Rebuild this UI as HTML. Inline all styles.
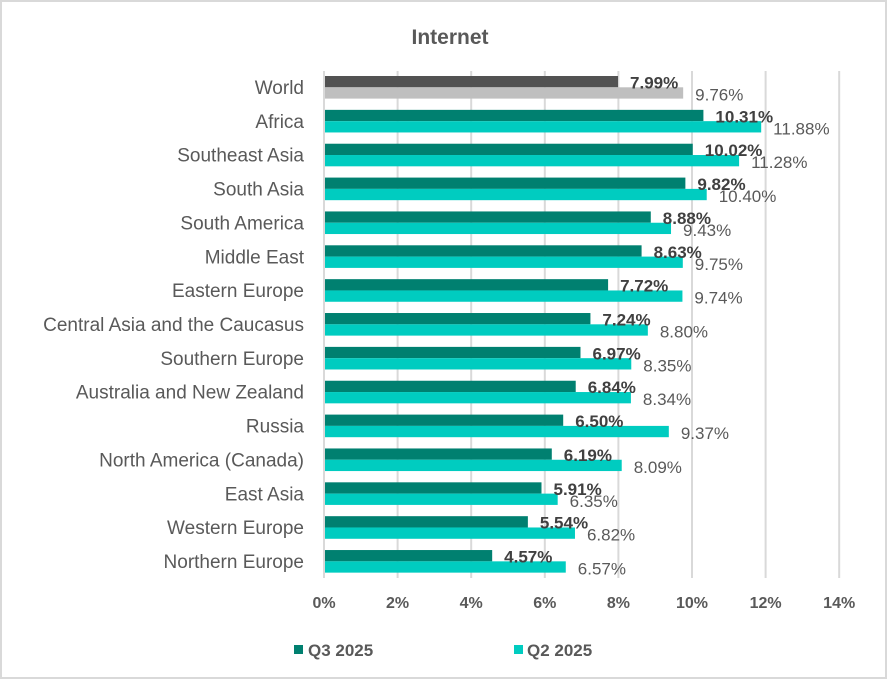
<!DOCTYPE html>
<html><head><meta charset="utf-8"><style>
body{margin:0;background:#fff}
svg{display:block;font-family:"Liberation Sans",sans-serif}
.c{font-size:19px;fill:#595959;text-anchor:end}
.a{font-size:17px;fill:#404040;font-weight:bold}
.b{font-size:17px;fill:#595959}
.t{font-size:16px;fill:#595959;font-weight:bold;text-anchor:middle}
</style></head><body>
<svg width="887" height="679" viewBox="0 0 887 679">
<rect x="1" y="1" width="885" height="677" fill="#fff" stroke="#d9d9d9" stroke-width="2"/>
<text x="450" y="44" style="font-size:21px;font-weight:bold;fill:#595959" text-anchor="middle">Internet</text>
<g stroke="#d9d9d9" stroke-width="2">
<line x1="397.6" y1="71" x2="397.6" y2="578"/><line x1="471.2" y1="71" x2="471.2" y2="578"/>
<line x1="544.8" y1="71" x2="544.8" y2="578"/><line x1="618.4" y1="71" x2="618.4" y2="578"/>
<line x1="692" y1="71" x2="692" y2="578"/><line x1="765.6" y1="71" x2="765.6" y2="578"/>
<line x1="839.2" y1="71" x2="839.2" y2="578"/><line x1="324" y1="71" x2="324" y2="578"/>
</g>
<g id="bars"></g>
<g class="t">
<text x="324" y="608">0%</text><text x="397.6" y="608">2%</text><text x="471.2" y="608">4%</text><text x="544.8" y="608">6%</text><text x="618.4" y="608">8%</text><text x="692" y="608">10%</text><text x="765.6" y="608">12%</text><text x="839.2" y="608">14%</text>
</g>
<rect x="294" y="645" width="9" height="9" fill="#008070"/>
<text x="308" y="656" style="font-size:17px;font-weight:bold;fill:#595959">Q3 2025</text>
<rect x="514" y="645" width="9" height="9" fill="#00ccc0"/>
<text x="527" y="656" style="font-size:17px;font-weight:bold;fill:#595959">Q2 2025</text>
</svg>
<script>
var d=[["World",7.99,9.76],["Africa",10.31,11.88],["Southeast Asia",10.02,11.28],["South Asia",9.82,10.40],["South America",8.88,9.43],["Middle East",8.63,9.75],["Eastern Europe",7.72,9.74],["Central Asia and the Caucasus",7.24,8.80],["Southern Europe",6.97,8.35],["Australia and New Zealand",6.84,8.34],["Russia",6.50,9.37],["North America (Canada)",6.19,8.09],["East Asia",5.91,6.35],["Western Europe",5.54,6.82],["Northern Europe",4.57,6.57]];
var s="";
d.forEach(function(r,i){
var y=76+i*33.86,x1=324+36.8*r[1],x2=324+36.8*r[2];
var c1=i?"#008070":"#525252",c2=i?"#00ccc0":"#bfbfbf";
s+='<rect x="325" y="'+y+'" width="'+(x1-325)+'" height="11.3" fill="'+c1+'"/>';
s+='<rect x="325" y="'+(y+11.3)+'" width="'+(x2-325)+'" height="11.3" fill="'+c2+'"/>';
s+='<text class="c" x="304" y="'+(y+18)+'">'+r[0]+'</text>';
s+='<text class="b" x="'+(x2+12)+'" y="'+(y+24.5)+'">'+r[2].toFixed(2)+'%</text>';
s+='<text class="a" x="'+(x1+12)+'" y="'+(y+12.5)+'">'+r[1].toFixed(2)+'%</text>';
});
document.getElementById("bars").innerHTML=s;
</script>
</body></html>
